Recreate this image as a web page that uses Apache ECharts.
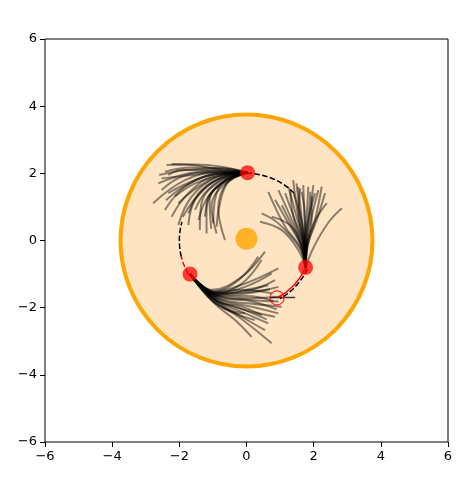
<!DOCTYPE html>
<html>
<head>
<meta charset="utf-8">
<script src="https://cdn.jsdelivr.net/npm/echarts@6/dist/echarts.min.js"></script>
<style>html,body{margin:0;padding:0;background:#fff}#c{width:457px;height:480px}</style>
</head>
<body>
<div id="c"></div>
<script>
// ---- data ----
const tickValues = [-6, -4, -2, 0, 2, 4, 6];
const bodyCircle = [0, 0, 3.75];              // cx, cy, radius
const orbitArcs = [[2.0, 45, 90], [2.0, 164, 194], [2.0, -60, -25]];  // radius, angle from, angle to (deg)
const redArcSolid = [1.94, -62, -25];
const redArcDashed = [2.0, 194, 210];
const centerDot = [[0, 0.05]];
const redDots = [[0.03, 2.02], [1.76, -0.80], [-1.68, -1.0]];
const hollowCircle = [[0.91, -1.71]];
const straightFiber = [[0.7, -1.7], [1.45, -1.7]];

const fibersTop = [
  [[0.03,2.02],[-0.74,2.20],[-1.53,2.26],[-2.38,2.25]],
  [[0.03,2.02],[-0.74,2.15],[-1.63,2.17],[-2.43,2.05]],
  [[0.03,2.02],[-0.84,2.08],[-1.73,2.00],[-2.63,1.70]],
  [[0.03,2.02],[-0.84,2.02],[-1.83,1.80],[-2.78,1.11]],
  [[0.03,2.02],[-0.89,1.98],[-1.83,1.60],[-2.43,0.91]],
  [[0.03,2.02],[-0.89,1.95],[-1.73,1.41],[-2.23,0.71]],
  [[0.03,2.02],[-0.84,1.90],[-1.63,1.31],[-2.03,0.46]],
  [[0.03,2.02],[-0.79,1.85],[-1.53,1.21],[-1.73,0.46]],
  [[0.03,2.02],[-0.74,1.80],[-1.34,1.11],[-1.39,0.31]],
  [[0.03,2.02],[-0.69,1.75],[-1.19,1.06],[-1.19,0.21]],
  [[0.03,2.02],[-0.64,1.70],[-1.04,1.01],[-0.89,0.21]],
  [[0.03,2.02],[-0.59,1.70],[-0.84,0.96],[-0.64,0.01]],
  [[0.03,2.02],[-0.54,1.75],[-0.79,1.11],[-0.89,0.41]],
  [[0.03,2.02],[-0.94,2.10],[-1.93,2.10],[-2.33,1.95]],
  [[0.03,2.02],[-0.74,2.00],[-1.53,1.80],[-2.33,1.41]],
  [[0.03,2.02],[-0.74,1.95],[-1.43,1.60],[-2.03,1.11]],
  [[0.03,2.02],[-0.64,1.90],[-1.34,1.50],[-1.73,0.81]],
  [[0.03,2.02],[-0.69,1.95],[-1.53,1.70],[-2.13,1.31]],
  [[0.03,2.02],[-0.54,1.85],[-1.04,1.41],[-1.24,0.71]],
  [[0.03,2.02],[-0.59,1.80],[-1.14,1.31],[-1.43,0.61]],
  [[0.03,2.02],[-0.79,2.12],[-1.73,2.26],[-2.23,2.28]],
  [[0.03,2.02],[-0.89,2.05],[-1.93,1.90],[-2.53,1.50]],
  [[0.03,2.02],[-0.64,1.80],[-0.94,1.21],[-0.99,0.51]],
  [[0.03,2.02],[-0.79,2.05],[-1.63,1.95],[-2.53,1.85]],
  [[0.03,2.02],[-0.69,1.85],[-1.24,1.41],[-1.53,0.91]],
  [[0.03,2.02],[-0.80,2.00],[-1.70,1.70],[-2.40,1.20]],
  [[0.03,2.02],[-0.70,1.90],[-1.40,1.40],[-1.90,0.70]],
  [[0.03,2.02],[-0.60,1.78],[-1.10,1.20],[-1.05,0.35]],
  [[0.03,2.02],[-0.85,2.15],[-1.80,2.10],[-2.60,1.95]]
];
const fibersRight = [
  [[1.76,-0.80],[1.72,-0.08],[1.64,0.71],[1.54,1.60]],
  [[1.76,-0.80],[1.74,-0.08],[1.79,0.71],[1.84,1.60]],
  [[1.76,-0.80],[1.79,-0.08],[1.94,0.71],[2.14,1.50]],
  [[1.76,-0.80],[1.84,-0.08],[2.09,0.61],[2.34,1.41]],
  [[1.76,-0.80],[2.00,-0.20],[2.45,0.55],[2.84,0.96]],
  [[1.76,-0.80],[1.69,-0.08],[1.49,0.71],[1.25,1.60]],
  [[1.76,-0.80],[1.64,-0.13],[1.35,0.61],[0.95,1.50]],
  [[1.76,-0.80],[1.59,-0.18],[1.15,0.41],[0.65,1.45]],
  [[1.76,-0.80],[1.54,-0.28],[1.05,0.31],[0.40,0.56]],
  [[1.76,-0.80],[1.59,-0.23],[0.95,0.51],[0.45,0.81]],
  [[1.76,-0.80],[1.72,-0.08],[1.59,0.81],[1.49,1.70]],
  [[1.76,-0.80],[1.76,-0.08],[1.72,0.81],[1.69,1.65]],
  [[1.76,-0.80],[1.78,-0.08],[1.89,0.81],[1.99,1.65]],
  [[1.76,-0.80],[1.82,-0.13],[2.04,0.61],[2.24,1.60]],
  [[1.76,-0.80],[1.70,-0.13],[1.44,0.61],[1.15,1.41]],
  [[1.76,-0.80],[1.64,-0.18],[1.25,0.51],[0.85,1.21]],
  [[1.76,-0.80],[1.74,-0.13],[1.64,0.61],[1.40,1.41]],
  [[1.76,-0.80],[1.80,-0.13],[2.00,0.51],[2.39,1.11]],
  [[1.76,-0.80],[1.66,-0.18],[1.35,0.41],[0.75,0.71]],
  [[1.76,-0.80],[1.73,-0.08],[1.74,0.71],[1.64,1.45]],
  [[1.76,-0.80],[1.77,-0.08],[1.84,0.61],[2.04,1.41]],
  [[1.76,-0.80],[1.68,-0.13],[1.40,0.71],[1.30,1.50]],
  [[1.76,-0.80],[1.71,-0.10],[1.54,0.71],[1.39,1.80]],
  [[1.76,-0.80],[1.81,-0.10],[1.94,0.61],[1.94,1.31]],
  [[1.76,-0.80],[1.75,-0.05],[1.85,0.80],[1.90,1.45]],
  [[1.76,-0.80],[1.70,-0.05],[1.55,0.90],[1.60,1.55]],
  [[1.76,-0.80],[1.62,-0.15],[1.30,0.55],[1.05,1.05]]
];
const fibersLeft = [
  [[-1.68,-1.0],[-1.04,-1.47],[-0.14,-1.08],[0.55,-0.33]],
  [[-1.68,-1.0],[-0.94,-1.52],[-0.04,-1.28],[0.95,-0.83]],
  [[-1.68,-1.0],[-0.94,-1.57],[-0.04,-1.38],[0.75,-0.98]],
  [[-1.68,-1.0],[-0.84,-1.62],[0.05,-1.57],[0.95,-1.38]],
  [[-1.68,-1.0],[-0.84,-1.67],[0.05,-1.72],[1.05,-1.67]],
  [[-1.68,-1.0],[-0.84,-1.72],[0.05,-1.87],[1.05,-1.97]],
  [[-1.68,-1.0],[-0.89,-1.77],[-0.04,-2.07],[0.85,-2.27]],
  [[-1.68,-1.0],[-0.94,-1.82],[-0.24,-2.27],[0.75,-3.06]],
  [[-1.68,-1.0],[-0.99,-1.82],[-0.34,-2.17],[0.25,-2.37]],
  [[-1.68,-1.0],[-0.94,-1.77],[-0.14,-2.27],[0.55,-2.67]],
  [[-1.68,-1.0],[-1.04,-1.77],[-0.54,-2.07],[-0.04,-2.17]],
  [[-1.68,-1.0],[-0.89,-1.57],[-0.14,-1.28],[0.45,-0.58]],
  [[-1.68,-1.0],[-0.84,-1.57],[0.15,-1.47],[0.85,-1.18]],
  [[-1.68,-1.0],[-0.79,-1.67],[0.15,-1.77],[0.95,-1.82]],
  [[-1.68,-1.0],[-0.89,-1.72],[0.15,-1.97],[0.95,-2.17]],
  [[-1.68,-1.0],[-0.94,-1.77],[-0.04,-2.17],[0.65,-2.47]],
  [[-1.68,-1.0],[-0.99,-1.52],[-0.24,-1.18],[0.35,-0.48]],
  [[-1.68,-1.0],[-0.89,-1.62],[-0.04,-1.47],[0.65,-1.33]],
  [[-1.68,-1.0],[-0.92,-1.79],[-0.14,-1.97],[0.45,-2.22]],
  [[-1.68,-1.0],[-0.96,-1.55],[-0.14,-1.47],[0.75,-1.57]],
  [[-1.68,-1.0],[-0.98,-1.85],[-0.34,-2.37],[0.15,-2.87]],
  [[-1.68,-1.0],[-0.90,-1.65],[0.00,-1.65],[0.80,-1.80]],
  [[-1.68,-1.0],[-0.88,-1.70],[0.10,-1.80],[0.90,-2.05]],
  [[-1.68,-1.0],[-0.95,-1.60],[-0.10,-1.55],[0.70,-1.45]],
  [[-1.68,-1.0],[-0.92,-1.75],[-0.10,-2.05],[0.60,-2.35]]
];

// ---- chart ----
const chart = echarts.init(document.getElementById('c'), null, {renderer: 'canvas'});
const D = Math.PI / 180;
const fmt = v => String(v).replace('-', '\u2212');
const axisCommon = {
  type: 'value', min: tickValues[0], max: tickValues[tickValues.length - 1], interval: 2,
  axisLine: {show: false, onZero: false},
  axisTick: {show: true, length: 5, lineStyle: {color: '#000', width: 1}},
  splitLine: {show: false},
  axisLabel: {color: '#000', fontFamily: 'DejaVu Sans', fontSize: 13, margin: 8, formatter: fmt}
};

const body = {
  type: 'custom', z: 1, silent: true, data: [bodyCircle],
  renderItem: function (p, api) {
    const c = api.coord([api.value(0), api.value(1)]);
    const r = api.size([api.value(2), 0])[0];
    return {type: 'circle', shape: {cx: c[0], cy: c[1], r: r},
      style: {fill: '#FFE4C4', stroke: '#FFA500', lineWidth: 4}};
  }
};

function arcSeries(arcs, color, dash, z) {
  return {
    type: 'custom', z: z, silent: true, data: arcs,
    renderItem: function (p, api) {
      const c = api.coord([0, 0]);
      const r = api.size([api.value(0), 0])[0];
      const a1 = -api.value(1) * D, a2 = -api.value(2) * D;
      return {type: 'arc', shape: {cx: c[0], cy: c[1], r: r,
          startAngle: Math.min(a1, a2), endAngle: Math.max(a1, a2), clockwise: true},
        style: {fill: null, stroke: color, lineWidth: 1.5, lineDash: dash}};
    }
  };
}

const series = [body, arcSeries(orbitArcs, '#000', [5.5, 2.4], 2)];
function addFibers(list) {
  list.forEach(f => series.push({
    type: 'line', data: f, smooth: 0.4, showSymbol: false, silent: true, z: 4,
    lineStyle: {color: 'rgba(0,0,0,0.45)', width: 2}
  }));
}
addFibers(fibersTop); addFibers(fibersRight); addFibers(fibersLeft);
series.push({type: 'line', data: straightFiber, showSymbol: false, silent: true, z: 4,
  lineStyle: {color: 'rgba(0,0,0,0.75)', width: 1.5}});
series.push(arcSeries([redArcSolid], '#ff0000', null, 5));
series.push(arcSeries([redArcDashed], '#ff0000', [5.5, 2.4], 5));
series.push({type: 'scatter', data: hollowCircle, symbolSize: 14, z: 6, silent: true,
  itemStyle: {color: 'rgba(0,0,0,0)', borderColor: '#ff0000', borderWidth: 1.2}});
series.push({type: 'scatter', data: redDots, symbolSize: 15, z: 7, silent: true,
  itemStyle: {color: 'rgba(255,0,0,0.92)'}});
series.push({type: 'scatter', data: centerDot, symbolSize: 22, z: 7, silent: true,
  itemStyle: {color: '#FFA500'}});

chart.setOption({
  animation: false,
  backgroundColor: '#fff',
  grid: {left: 45, top: 39, width: 403, height: 403, show: true, borderColor: '#000', borderWidth: 1, backgroundColor: 'transparent'},
  xAxis: axisCommon,
  yAxis: Object.assign({}, axisCommon),
  series: series
});
</script>
</body>
</html>
